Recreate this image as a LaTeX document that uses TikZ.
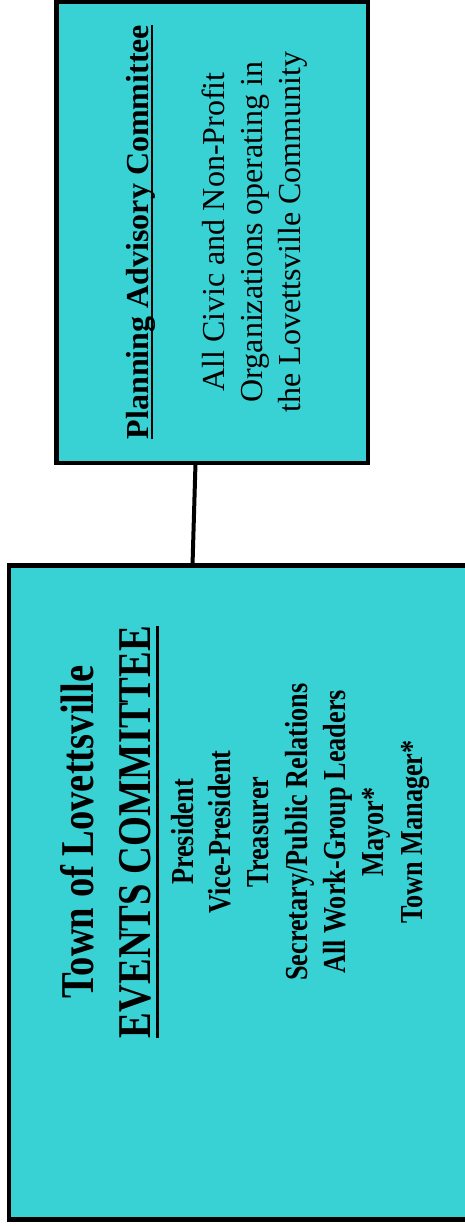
\documentclass[tikz,border=0pt]{standalone}
\usepackage{fontspec}
\setmainfont{Liberation Serif}
\newfontfamily\condfont[FakeStretch=0.82]{Liberation Serif}
\definecolor{boxfill}{RGB}{56,210,212}
\newcommand\myul[3]{\setbox0\hbox{#3}\rlap{\rule[-#1]{\wd0}{#2}}\box0}
\tikzset{
  box/.style={draw=black, line width=4.8pt, fill=boxfill, rectangle, inner sep=0pt, outer sep=0pt},
  vtxt/.style={rotate=90, anchor=base, inner sep=0pt, outer sep=0pt},
  toptxt/.style={vtxt, font=\fontsize{32}{38}\selectfont},
  bigtxt/.style={vtxt, font=\condfont\bfseries\fontsize{47}{56}\selectfont},
  listtxt/.style={vtxt, font=\condfont\bfseries\fontsize{32}{38}\selectfont},
  link/.style={draw=black, line width=4pt},
}
\begin{document}
\begin{tikzpicture}[x=1pt, y=-1pt]
\useasboundingbox (0,0) rectangle (464,1226);
% boxes
\node[box, minimum width=311.5pt, minimum height=461pt] (pac) at (212.25,232.5) {};
\node[box, minimum width=471pt, minimum height=654pt] (evt) at (244.5,892.5) {};
% connector
\draw[link] (pac.south -| 195.5,0) -- (evt.north -| 192.5,0);
% top box text
\node[toptxt, font=\bfseries\fontsize{32}{38}\selectfont] (pt) at (148,232) {\myul{5pt}{2pt}{Planning Advisory Committee}};
\node[toptxt] (p1) at (224,232) {All Civic and Non-Profit};
\node[toptxt] (p2) at (262,232) {Organizations operating in};
\node[toptxt] (p3) at (300,232) {the Lovettsville Community};
% bottom box text
\node[bigtxt] (e0) at (93,832) {Town of Lovettsville};
\node[bigtxt] (e1) at (150,832) {\myul{9pt}{3.5pt}{EVENTS COMMITTEE}};
\node[listtxt] (l1) at (193,832) {President};
\node[listtxt] (l2) at (230,832) {Vice-President};
\node[listtxt] (l3) at (268,832) {Treasurer};
\node[listtxt] (l4) at (307,832) {Secretary/Public Relations};
\node[listtxt] (l5) at (345,832) {All Work-Group Leaders};
\node[listtxt] (l6) at (383,832) {Mayor*};
\node[listtxt] (l7) at (422,832) {Town Manager*};
\end{tikzpicture}
\end{document}
